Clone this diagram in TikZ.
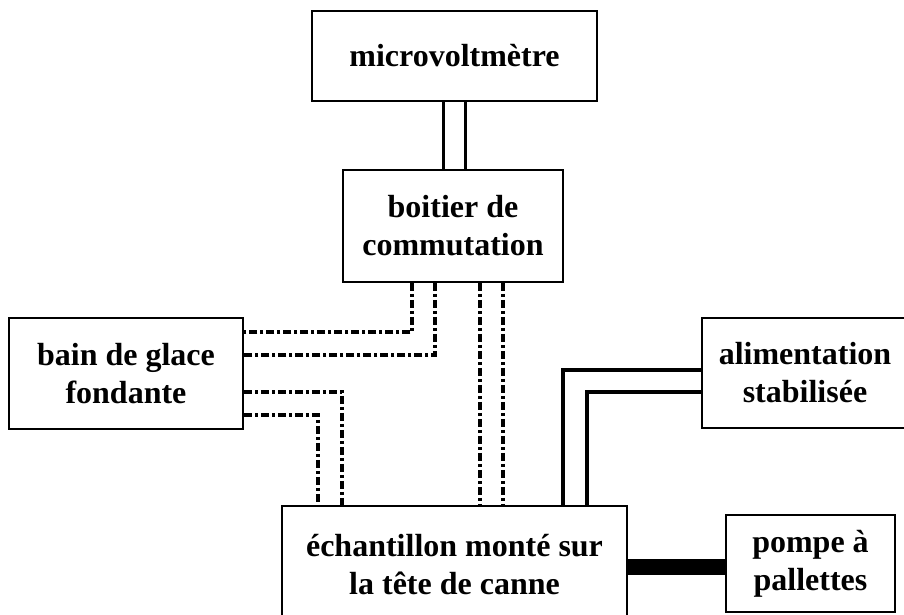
\documentclass[tikz,border=0pt]{standalone}
\usepackage{fontspec}
\setmainfont{Liberation Serif}
\usepackage{tikz}
\usetikzlibrary{calc}

\begin{document}
\begin{tikzpicture}[x=1pt, y=-1pt]

        % Frame of the picture (boxes running past the edge are cut off)
        \clip (0, 0) rectangle (904, 615);

        % 1. Styles for the boxes and the three kinds of wires
        \tikzset{unit/.style={draw, line width=1.5pt, inner sep=0pt, align=center,
                              font=\fontsize{32}{38}\selectfont\bfseries}}
        \tikzset{wire/.style={line width=3.5pt}}
        \tikzset{sig/.style={line width=3.2pt, dash pattern=on 8pt off 3pt on 3pt off 3pt}}
        \tikzset{pipe/.style={line width=16pt}}

        % 2. The boxes (centres and sizes)
        \node[unit, minimum width=285pt, minimum height=90pt] (micro) at (454.5, 56) {microvoltmètre};
        \node[unit, minimum width=220pt, minimum height=112pt] (boitier) at (453, 226) {boitier de\\commutation};
        \node[unit, minimum width=234pt, minimum height=111pt] (bain) at (126, 373.5) {bain de glace\\fondante};
        \node[unit, minimum width=206pt, minimum height=110pt] (alim) at (805, 373) {alimentation\\stabilisée};
        \node[unit, minimum width=345pt, minimum height=118pt] (echant) at (454.5, 565) {échantillon monté sur\\la tête de canne};
        \node[unit, minimum width=169pt, minimum height=97pt] (pompe) at (810.5, 563.5) {pompe à\\pallettes};

        % 3. Microvoltmeter to switch box - two solid wires
        \draw[wire] ([xshift=-11pt]micro.south) -- ([xshift=-11pt]micro.south |- boitier.north);
        \draw[wire] ([xshift=11pt]micro.south) -- ([xshift=11pt]micro.south |- boitier.north);

        % 4. Switch box to ice bath
        \draw[sig] ([xshift=-41pt]boitier.south) |- ([yshift=41.5pt]bain.east);
        \draw[sig] ([xshift=-18pt]boitier.south) |- ([yshift=18.5pt]bain.east);

        % 5. Switch box to sample
        \draw[sig] ([xshift=27pt]boitier.south) -- ([xshift=27pt]boitier.south |- echant.north);
        \draw[sig] ([xshift=50pt]boitier.south) -- ([xshift=50pt]boitier.south |- echant.north);

        % 6. Ice bath to sample
        \draw[sig] ([yshift=-18.5pt]bain.east) -| ([xshift=-112.5pt]echant.north);
        \draw[sig] ([yshift=-41.5pt]bain.east) -| ([xshift=-136.5pt]echant.north);

        % 7. Sample to power supply - two solid wires
        \draw[wire] ([xshift=108.5pt]echant.north) |- ([yshift=3pt]alim.west);
        \draw[wire] ([xshift=132.5pt]echant.north) |- ([yshift=-19pt]alim.west);

        % 8. Sample to pump - thick pipe
        \draw[pipe] ([yshift=-2pt]echant.east) -- ([yshift=-2pt]echant.east -| pompe.west);

\end{tikzpicture}
\end{document}
